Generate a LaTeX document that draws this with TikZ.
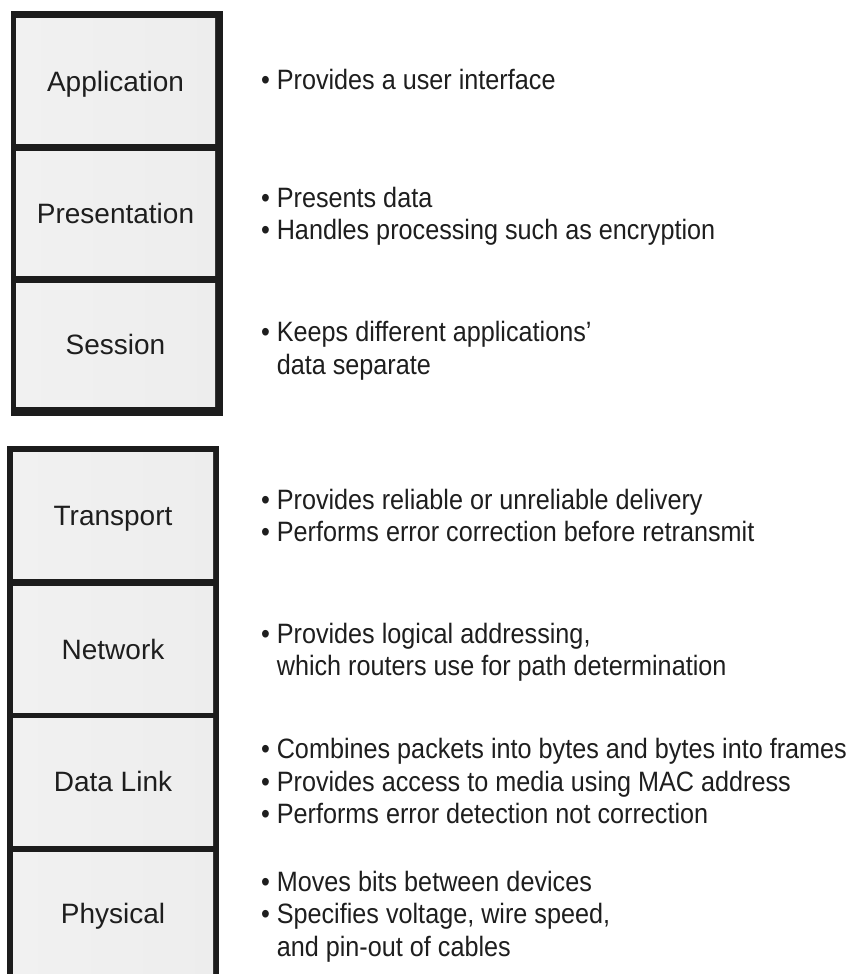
\documentclass[tikz,border=0pt]{standalone}
\usepackage{fontspec}
\setmainfont{Liberation Sans}
\newfontfamily\bulfont[FakeStretch=0.9]{Liberation Sans}
\definecolor{frame}{HTML}{1C1C1C}
\definecolor{txt}{HTML}{1E1E1E}
\tikzset{
  cell/.style={inner sep=0pt, outer sep=0pt, shade, left color=gray!11, middle color=gray!20, right color=gray!14,
    text=txt, text height=20pt, text depth=0pt, font=\fontsize{28}{33}\selectfont},
  bul/.style={anchor=west, inner sep=0pt, outer sep=0pt, text=txt, yshift=-4pt,
    font=\bulfont\fontsize{28}{32.5}\selectfont},
  stackframe/.style={fill=frame, draw=none}
}
\newcommand{\bl}[1]{\begin{tabular}{@{}l@{\ }l@{}}#1\end{tabular}}
\begin{document}
\begin{tikzpicture}[x=1pt,y=-1pt]
\useasboundingbox (0,0) rectangle (854,974);
\fill[white] (0,0) rectangle (854,974);
% upper stack
\path[stackframe] (11,11) rectangle (223,416);
\node[cell, minimum width=199pt, minimum height=124pt] (app) at (115.5,81) {Application};
\node[cell, minimum width=199pt, minimum height=124pt] (pre) at (115.5,213) {Presentation};
\node[cell, minimum width=199pt, minimum height=123pt] (ses) at (115.5,344.5) {Session};
% lower stack
\path[stackframe] (7,446) rectangle (219,974);
\node[cell, minimum width=200pt, minimum height=126pt] (tra) at (113,515) {Transport};
\node[cell, minimum width=200pt, minimum height=126pt] (net) at (113,649) {Network};
\node[cell, minimum width=200pt, minimum height=127pt] (dl) at (113,781.5) {Data Link};
\node[cell, minimum width=200pt, minimum height=122pt] (phy) at (113,913) {Physical};
% descriptions
\node[bul, yshift=2pt] (tapp) at (261,81) {\bl{• & Provides a user interface}};
\node[bul] (tpre) at (261,213) {\bl{• & Presents data\\ • & Handles processing such as encryption}};
\node[bul, yshift=-3pt] (tses) at (261,344.5) {\bl{• & Keeps different applications’\\ & data separate}};
\node[bul] (ttra) at (261,515) {\bl{• & Provides reliable or unreliable delivery\\ • & Performs error correction before retransmit}};
\node[bul] (tnet) at (261,649) {\bl{• & Provides logical addressing,\\ & which routers use for path determination}};
\node[bul, yshift=1pt] (tdl) at (261,781.5) {\bl{• & Combines packets into bytes and bytes into frames\\ • & Provides access to media using MAC address\\ • & Performs error detection not correction}};
\node[bul] (tphy) at (261,913) {\bl{• & Moves bits between devices\\ • & Specifies voltage, wire speed,\\ & and pin-out of cables}};
\end{tikzpicture}
\end{document}
